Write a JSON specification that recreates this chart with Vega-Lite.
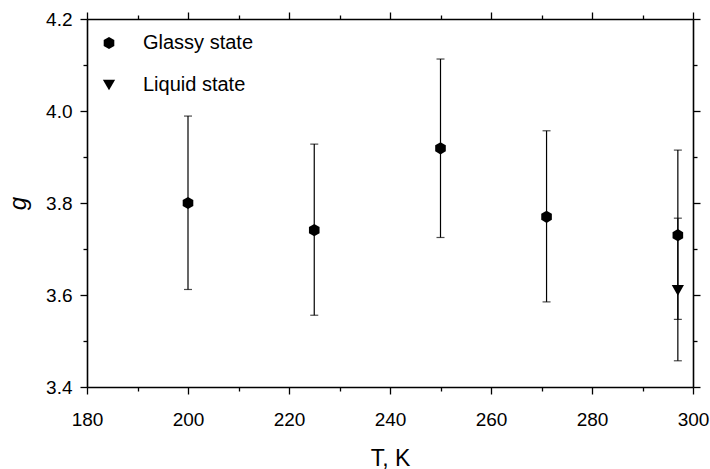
{
  "$schema": "https://vega.github.io/schema/vega-lite/v6.json",
  "width": 606,
  "height": 368,
  "autosize": "none",
  "padding": {"left": 87, "top": 19, "right": 17, "bottom": 82},
  "background": "white",
  "config": {
    "view": {"stroke": null},
    "font": "Liberation Sans",
    "axis": {
      "domainColor": "black",
      "domainWidth": 1.6,
      "tickColor": "black",
      "tickWidth": 1.3,
      "labelColor": "black",
      "titleColor": "black",
      "labelFont": "Liberation Sans",
      "titleFont": "Liberation Sans",
      "grid": false
    }
  },
  "data": {
    "values": [
      {"T": 200, "g": 3.80, "lo": 3.612, "hi": 3.989, "state": "Glassy state"},
      {"T": 225, "g": 3.741, "lo": 3.556, "hi": 3.928, "state": "Glassy state"},
      {"T": 250, "g": 3.919, "lo": 3.725, "hi": 4.113, "state": "Glassy state"},
      {"T": 271, "g": 3.770, "lo": 3.585, "hi": 3.957, "state": "Glassy state"},
      {"T": 297, "g": 3.730, "lo": 3.547, "hi": 3.915, "state": "Glassy state"},
      {"T": 297, "g": 3.610, "lo": 3.457, "hi": 3.767, "state": "Liquid state"}
    ]
  },
  "layer": [
    {
      "mark": {"type": "rule", "color": "black", "strokeWidth": 1.2},
      "encoding": {
        "x": {
          "field": "T", "type": "quantitative",
          "scale": {"domain": [180, 300], "nice": false, "zero": false},
          "axis": {
            "orient": "bottom",
            "values": [180, 200, 220, 240, 260, 280, 300],
            "tickSize": 7,
            "labelFontSize": 19,
            "labelPadding": 16,
            "labelFlush": false,
            "labelOverlap": false,
            "title": "T, K",
            "titleFontSize": 23,
            "titleFontWeight": "normal",
            "titlePadding": 18
          }
        },
        "y": {
          "field": "lo", "type": "quantitative",
          "scale": {"domain": [3.4, 4.2], "nice": false, "zero": false},
          "axis": {
            "orient": "left",
            "values": [3.4, 3.6, 3.8, 4.0, 4.2],
            "format": ".1f",
            "tickSize": 7,
            "labelFontSize": 19,
            "labelPadding": 8,
            "labelFlush": false,
            "labelOverlap": false,
            "title": "g",
            "titleFontSize": 24,
            "titleFontStyle": "italic",
            "titleFontWeight": "normal",
            "titlePadding": 15
          }
        },
        "y2": {"field": "hi"}
      }
    },
    {
      "mark": {"type": "tick", "orient": "horizontal", "color": "black", "size": 8, "thickness": 1.2},
      "encoding": {
        "x": {
          "field": "T", "type": "quantitative",
          "axis": {
            "orient": "bottom",
            "values": [190, 210, 230, 250, 270, 290],
            "tickSize": 4,
            "labels": false,
            "domain": false,
            "title": null
          }
        },
        "y": {
          "field": "lo", "type": "quantitative",
          "axis": {
            "orient": "left",
            "values": [3.5, 3.7, 3.9, 4.1],
            "tickSize": 4,
            "labels": false,
            "domain": false,
            "title": null
          }
        }
      }
    },
    {
      "mark": {"type": "tick", "orient": "horizontal", "color": "black", "size": 8, "thickness": 1.2},
      "encoding": {
        "x": {
          "field": "T", "type": "quantitative",
          "axis": {
            "orient": "top",
            "values": [180, 200, 220, 240, 260, 280, 300],
            "tickSize": 7,
            "labels": false,
            "title": null
          }
        },
        "y": {
          "field": "hi", "type": "quantitative",
          "axis": {
            "orient": "right",
            "values": [3.4, 3.6, 3.8, 4.0, 4.2],
            "tickSize": 7,
            "labels": false,
            "title": null
          }
        }
      }
    },
    {
      "mark": {"type": "point", "filled": true, "color": "black", "opacity": 1, "size": 150},
      "encoding": {
        "x": {
          "field": "T", "type": "quantitative",
          "axis": {
            "orient": "top",
            "values": [190, 210, 230, 250, 270, 290],
            "tickSize": 4,
            "labels": false,
            "domain": false,
            "title": null
          }
        },
        "y": {
          "field": "g", "type": "quantitative",
          "axis": {
            "orient": "right",
            "values": [3.5, 3.7, 3.9, 4.1],
            "tickSize": 4,
            "labels": false,
            "domain": false,
            "title": null
          }
        },
        "shape": {
          "field": "state", "type": "nominal",
          "scale": {
            "domain": ["Glassy state", "Liquid state"],
            "range": ["M0,-1L0.866,-0.5L0.866,0.5L0,1L-0.866,0.5L-0.866,-0.5Z", "triangle-down"]
          },
          "legend": {
            "orient": "none",
            "legendX": 12,
            "legendY": 14,
            "title": null,
            "labelFontSize": 20,
            "labelFont": "Liberation Sans",
            "labelColor": "black",
            "symbolFillColor": "black",
            "symbolStrokeColor": "black",
            "symbolSize": 150,
            "symbolOpacity": 1,
            "labelOffset": 24,
            "rowPadding": 22,
            "padding": 0
          }
        }
      }
    }
  ],
  "resolve": {"axis": {"x": "independent", "y": "independent"}}
}
